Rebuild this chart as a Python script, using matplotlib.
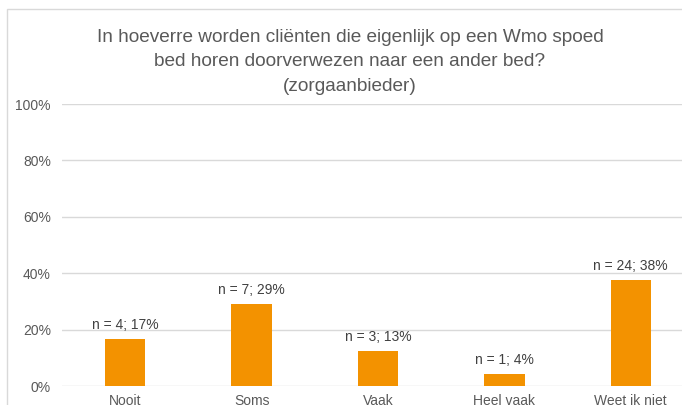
import matplotlib.pyplot as plt
from matplotlib.patches import Rectangle

categories = ['Nooit', 'Soms', 'Vaak', 'Heel vaak', 'Weet ik niet']
percentages = [16.7, 29.2, 12.5, 4.2, 37.5]
bar_labels = ['n = 4; 17%', 'n = 7; 29%', 'n = 3; 13%', 'n = 1; 4%', 'n = 24; 38%']
y_ticks = [0, 20, 40, 60, 80, 100]

plt.rcParams['font.family'] = ['Liberation Sans', 'DejaVu Sans']

W, H = 682, 405
fig = plt.figure(figsize=(W / 100, H / 100), dpi=100)

# chart area border (cut off on the right and bottom like the original)
fig.patches.append(Rectangle((7 / W, -0.1), 1.2, (H - 9) / H + 0.1, transform=fig.transFigure,
                             fill=False, edgecolor='#d9d9d9', linewidth=1))

ax = fig.add_axes([62 / W, 19 / H, 632 / W, 282 / H])
x = range(len(categories))
ax.bar(x, percentages, width=0.32, color='#f39200', zorder=3)
ax.set_xlim(-0.5, len(categories) - 0.5)
ax.set_ylim(0, 100)
ax.set_yticks(y_ticks)
ax.set_yticklabels([f'{v}%' for v in y_ticks])
ax.set_xticks(list(x))
ax.set_xticklabels(categories)
ax.tick_params(axis='both', length=0, labelsize=10, colors='#595959')
ax.tick_params(axis='y', pad=8)
ax.tick_params(axis='x', pad=6)
ax.grid(axis='y', color='#d9d9d9', linewidth=1, zorder=0)
for s in ax.spines.values():
    s.set_visible(False)

for i, (v, lab) in enumerate(zip(percentages, bar_labels)):
    ax.annotate(lab, (i, v), xytext=(0, 5), textcoords='offset points',
                ha='center', va='bottom', fontsize=10, color='#404040')

fig.text(350 / W, 1 - 62 / H,
         'In hoeverre worden cliënten die eigenlijk op een Wmo spoed\nbed horen doorverwezen naar een ander bed?\n(zorgaanbieder)',
         ha='center', va='center', fontsize=13.7, color='#595959', linespacing=1.55)

fig.savefig('out.png', dpi=100)
